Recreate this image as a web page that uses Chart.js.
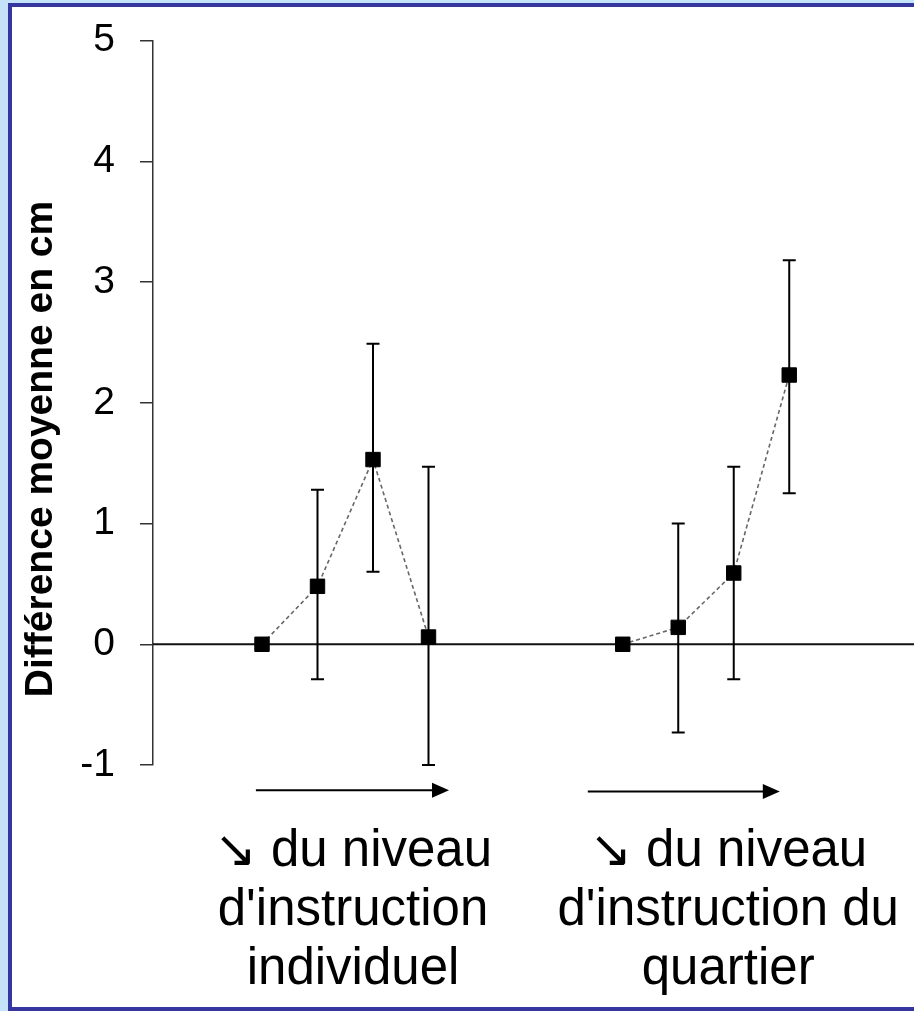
<!DOCTYPE html>
<html>
<head>
<meta charset="utf-8">
<script src="https://cdn.jsdelivr.net/npm/chart.js@4"></script>
<style>
  html, body { margin: 0; padding: 0; background: #c4e2f8; overflow: hidden; }
  #frame { position: absolute; left: 8px; top: 3px; width: 940px; height: 1000px; border: 4px solid #3636a0; background: #fff; }
  #chart { position: absolute; left: 0; top: 0; }
</style>
</head>
<body>
<div id="frame"></div>
<canvas id="chart" width="914" height="1011"></canvas>
<script>
// --- Data ---
const yTicks = [-1, 0, 1, 2, 3, 4, 5];

const individuelX = [1, 2, 3, 4];
const individuelMean = [0, 0.48, 1.53, 0.06];
const individuelHigh = [null, 1.28, 2.49, 1.47];
const individuelLow = [null, -0.29, 0.60, -1.00];

const quartierX = [7.5, 8.5, 9.5, 10.5];
const quartierMean = [0, 0.14, 0.59, 2.23];
const quartierHigh = [null, 1.00, 1.47, 3.18];
const quartierLow = [null, -0.73, -0.29, 1.25];

const groupLabels = [
    ['\u2198 du niveau', "d'instruction", 'individuel'],
    ['\u2198 du niveau', "d'instruction du", 'quartier']
];
const yTitle = 'Différence moyenne en cm';

const FONT = '"Liberation Sans", Arial, "DejaVu Sans", sans-serif';

function toPoints(xs, means, highs, lows) {
    return xs.map((x, i) => ({ x: x, y: means[i], high: highs[i], low: lows[i] }));
}

// --- Extra drawing: zero line, error bars, arrows, group captions, axis title ---
const annotations = {
    id: 'annotations',
    beforeDatasetsDraw(chart) {
        const { ctx, chartArea, scales: { x, y } } = chart;
        ctx.save();

        // horizontal line at zero
        const y0 = y.getPixelForValue(0);
        ctx.strokeStyle = '#111';
        ctx.lineWidth = 2;
        ctx.beginPath();
        ctx.moveTo(chartArea.left, y0);
        ctx.lineTo(chart.width, y0);
        ctx.stroke();

        // error bars
        ctx.strokeStyle = '#000';
        ctx.lineWidth = 2;
        chart.data.datasets.forEach(ds => {
            ds.data.forEach(p => {
                if (p.high == null) return;
                const px = x.getPixelForValue(p.x);
                const top = y.getPixelForValue(p.high);
                const bot = y.getPixelForValue(p.low);
                ctx.beginPath();
                ctx.moveTo(px, top); ctx.lineTo(px, bot);
                ctx.moveTo(px - 6.5, top); ctx.lineTo(px + 6.5, top);
                ctx.moveTo(px - 6.5, bot); ctx.lineTo(px + 6.5, bot);
                ctx.stroke();
            });
        });
        ctx.restore();
    },
    afterDraw(chart) {
        const { ctx, chartArea, scales: { x, y } } = chart;
        ctx.save();

        // arrows under each group
        const arrows = [[0.89, 4.37, -1.21], [6.87, 10.33, -1.22]];
        ctx.strokeStyle = '#000';
        ctx.fillStyle = '#000';
        ctx.lineWidth = 2;
        arrows.forEach(a => {
            const x1 = x.getPixelForValue(a[0]);
            const x2 = x.getPixelForValue(a[1]);
            const ay = y.getPixelForValue(a[2]);
            ctx.beginPath();
            ctx.moveTo(x1, ay); ctx.lineTo(x2 - 14, ay);
            ctx.stroke();
            ctx.beginPath();
            ctx.moveTo(x2, ay);
            ctx.lineTo(x2 - 17, ay - 7.5);
            ctx.lineTo(x2 - 17, ay + 7.5);
            ctx.closePath();
            ctx.fill();
        });

        // group captions
        const centers = [2.64, 9.40];
        ctx.font = '51px ' + FONT;
        ctx.textAlign = 'center';
        ctx.textBaseline = 'alphabetic';
        groupLabels.forEach((lines, g) => {
            const cx = x.getPixelForValue(centers[g]);
            lines.forEach((line, i) => {
                ctx.fillText(line, cx, 866 + i * 59);
            });
        });

        // y axis title
        ctx.translate(52, 449);
        ctx.rotate(-Math.PI / 2);
        ctx.font = 'bold 39px ' + FONT;
        ctx.textAlign = 'center';
        ctx.textBaseline = 'alphabetic';
        ctx.fillText(yTitle, 0, 0);
        ctx.restore();
    }
};

const lineStyle = {
    borderColor: '#666',
    borderWidth: 1.6,
    borderDash: [4, 3],
    pointStyle: 'rect',
    pointRadius: 10.2,
    pointBackgroundColor: '#000',
    pointBorderColor: '#000',
    pointBorderWidth: 1,
    fill: false,
    tension: 0
};

new Chart(document.getElementById('chart'), {
    type: 'line',
    data: {
        datasets: [
            Object.assign({ label: 'individuel', data: toPoints(individuelX, individuelMean, individuelHigh, individuelLow) }, lineStyle),
            Object.assign({ label: 'quartier', data: toPoints(quartierX, quartierMean, quartierHigh, quartierLow) }, lineStyle)
        ]
    },
    options: {
        responsive: false,
        devicePixelRatio: 1,
        animation: false,
        layout: { autoPadding: false, padding: { top: 39, bottom: 246, left: 0, right: 0 } },
        plugins: {
            legend: { display: false },
            tooltip: { enabled: false }
        },
        scales: {
            x: {
                type: 'linear',
                display: false,
                min: -0.964,
                max: 12.748
            },
            y: {
                min: -1,
                max: 5,
                afterFit: scale => { scale.width = 153; },
                afterBuildTicks: scale => { scale.ticks = yTicks.map(v => ({ value: v })); },
                grid: { drawOnChartArea: false, drawTicks: true, tickLength: 13, color: '#333', lineWidth: 1.5 },
                border: { display: true, color: '#333', width: 1.5 },
                ticks: {
                    color: '#000',
                    padding: 25,
                    font: { family: FONT, size: 39, lineHeight: 0.8 }
                }
            }
        }
    },
    plugins: [annotations]
});
</script>
</body>
</html>
